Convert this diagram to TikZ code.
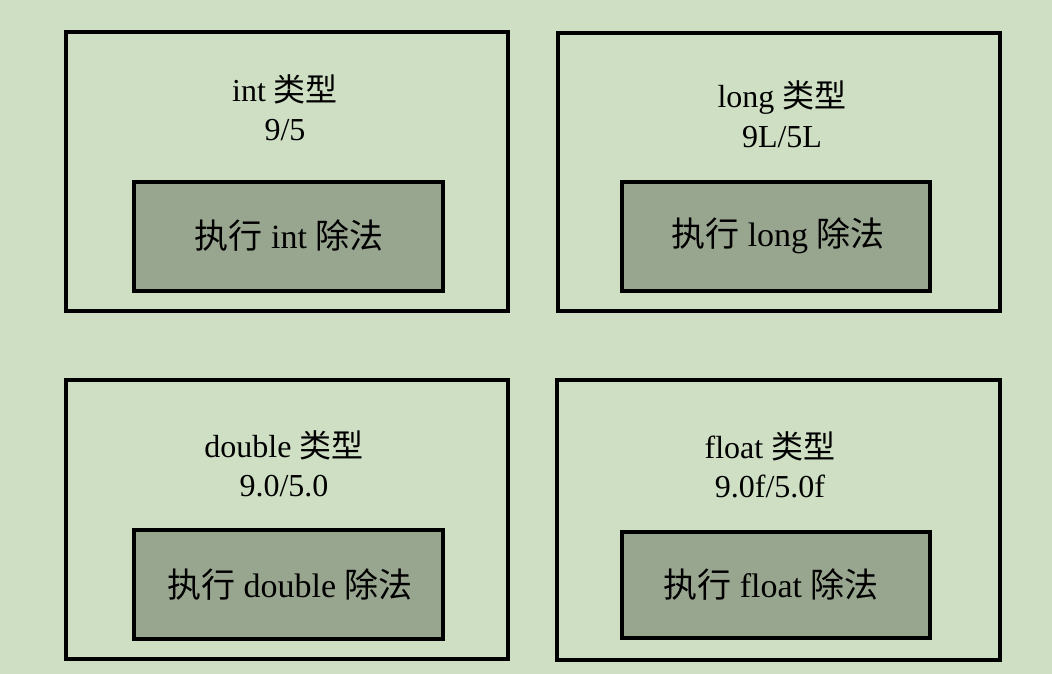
\documentclass[tikz,border=0pt]{standalone}
\usepackage{fontspec}
\setmainfont{Liberation Serif}
\newfontfamily\cjkfont{Noto Sans CJK SC}
\newcommand\zh[1]{{\cjkfont #1}}
\definecolor{bgc}{HTML}{CFDFC4}
\definecolor{innerc}{HTML}{99A68F}
\begin{document}
\begin{tikzpicture}[x=1pt,y=-1pt,
  outerbox/.style={draw=black,line width=4pt,fill=bgc,inner sep=0pt,outer sep=0pt},
  innerbox/.style={draw=black,line width=4pt,fill=innerc,inner sep=0pt,outer sep=0pt},
  toptext/.style={anchor=base,inner sep=0pt,font=\fontsize{32}{32}\selectfont},
  intext/.style={anchor=base,inner sep=0pt,font=\fontsize{34}{34}\selectfont}]
\fill[bgc] (0,0) rectangle (1052,674);
\useasboundingbox (0,0) rectangle (1052,674);
% outer boxes
\node[outerbox,minimum width=442pt,minimum height=278pt] (o1) at (287,171.5) {};
\node[outerbox,minimum width=442pt,minimum height=278pt] (o2) at (779,172) {};
\node[outerbox,minimum width=442pt,minimum height=279pt] (o3) at (287,519) {};
\node[outerbox,minimum width=443pt,minimum height=280pt] (o4) at (778.5,520) {};
% inner boxes
\node[innerbox,minimum width=309pt,minimum height=109pt] (i1) at (288.5,236.5) {};
\node[innerbox,minimum width=308pt,minimum height=109pt] (i2) at (776,236.5) {};
\node[innerbox,minimum width=309pt,minimum height=109pt] (i3) at (288.5,584.5) {};
\node[innerbox,minimum width=308pt,minimum height=106pt] (i4) at (776,585) {};
% texts
\node[toptext] (t1) at (285,102) {int \zh{类型}};
\node[toptext] (v1) at (285,140) {9/5};
\node[intext] (e1) at (289,248) {\zh{执行} int \zh{除法}};
\node[toptext] (t2) at (782,108) {long \zh{类型}};
\node[toptext] (v2) at (782,148) {9L/5L};
\node[intext] (e2) at (778,246) {\zh{执行} long \zh{除法}};
\node[toptext] (t3) at (284,457) {double \zh{类型}};
\node[toptext] (v3) at (284,496) {9.0/5.0};
\node[intext] (e3) at (290,597) {\zh{执行} double \zh{除法}};
\node[toptext] (t4) at (770,458) {float \zh{类型}};
\node[toptext] (v4) at (770,497) {9.0f/5.0f};
\node[intext] (e4) at (771,597) {\zh{执行} float \zh{除法}};
\end{tikzpicture}
\end{document}
